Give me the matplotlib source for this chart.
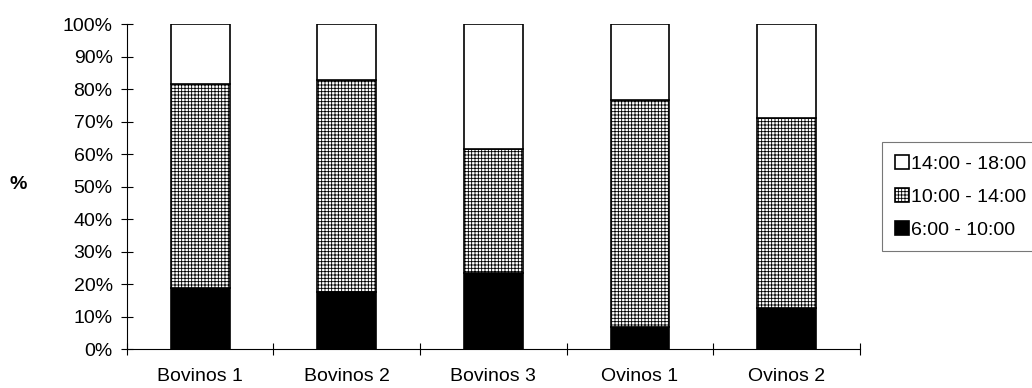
import numpy as np
import matplotlib.pyplot as plt

plt.rcParams['font.family'] = ['Liberation Sans', 'DejaVu Sans']
plt.rcParams['hatch.linewidth'] = 0.6

categories = ['Bovinos 1', 'Bovinos 2', 'Bovinos 3', 'Ovinos 1', 'Ovinos 2']
early = [18.8, 17.5, 23.4, 6.8, 12.6]      # 6:00 - 10:00
mid = [62.7, 65.3, 38.1, 69.8, 58.5]       # 10:00 - 14:00
late = [18.5, 17.2, 38.5, 23.4, 28.9]      # 14:00 - 18:00

fig = plt.figure(figsize=(10.32, 3.88), dpi=100)
ax = fig.add_axes([0.123, 0.1005, 0.71, 0.8375])

x = np.arange(len(categories))
w = 0.4
b1 = ax.bar(x, early, w, color='black', edgecolor='black', linewidth=1.2, label='6:00 - 10:00')
b2 = ax.bar(x, mid, w, bottom=early, color='white', edgecolor='black', hatch='+++++',
            linewidth=1.2, label='10:00 - 14:00')
b3 = ax.bar(x, late, w, bottom=np.add(early, mid), color='white', edgecolor='black',
            linewidth=1.2, label='14:00 - 18:00')

fs = 14
ax.set_xlim(-0.5, len(categories) - 0.5)
ax.set_ylim(0, 100)
ax.set_yticks(np.arange(0, 101, 10))
ax.set_yticklabels([f'{v}%' for v in range(0, 101, 10)], fontsize=fs)
ax.set_xticks(x)
ax.set_xticklabels(categories, fontsize=fs)
ax.tick_params(axis='x', length=0, pad=14)
ax.set_xticks(np.arange(-0.5, len(categories), 1), minor=True)
ax.tick_params(axis='x', which='minor', direction='inout', length=8.5, width=0.8)
ax.tick_params(axis='y', direction='inout', length=8.5, width=0.8, pad=6)

for s in ['top', 'right']:
    ax.spines[s].set_visible(False)
for s in ['left', 'bottom']:
    ax.spines[s].set_linewidth(0.8)

ax.set_ylabel('%', rotation=0, fontsize=fs, fontweight='bold', va='center', ha='center')
ax.yaxis.set_label_coords(-0.149, 0.505)

leg = fig.legend(handles=[b3, b2, b1], loc='upper left', bbox_to_anchor=(882 / 1032, 1 - 142 / 388),
                 frameon=True, fancybox=False, fontsize=fs, handlelength=0.75,
                 handleheight=0.75, handletextpad=0.1, labelspacing=0.78, borderpad=0.65,
                 borderaxespad=0)
leg.get_frame().set_edgecolor('#555555')
leg.get_frame().set_linewidth(0.8)

fig.savefig('out.png', dpi=100)
